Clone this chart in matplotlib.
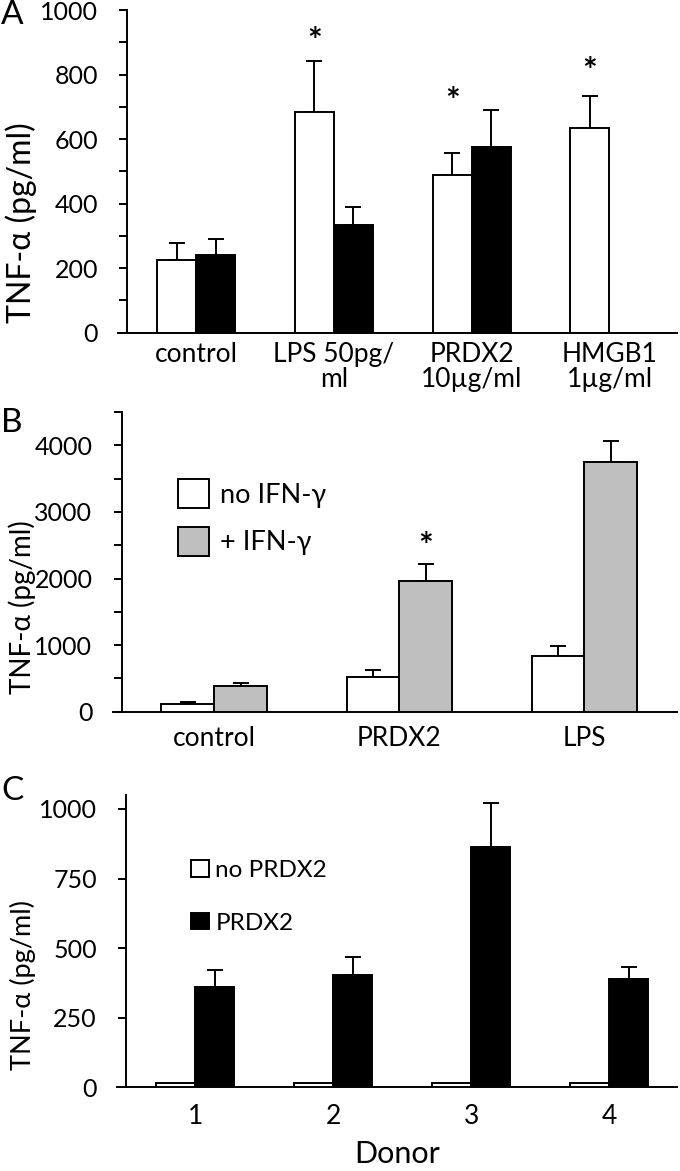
import numpy as np
import matplotlib.pyplot as plt
from matplotlib.patches import Patch
from matplotlib.ticker import MultipleLocator

plt.rcParams['font.family'] = ['Lato', 'Noto Sans', 'DejaVu Sans']

# === Daten ==============================================================
# Panel A
a_groups = ['control', 'LPS 50pg/\nml', 'PRDX2\n10µg/ml', 'HMGB1\n1µg/ml']
a_white = [226, 683, 489, 634]
a_white_err = [52, 160, 67, 99]
a_black = [240, 335, 575, np.nan]
a_black_err = [49, 53, 115, np.nan]
a_star_y = [np.nan, 902, 716, 809]     # Sternchen über den weißen Balken

# Panel B
b_groups = ['control', 'PRDX2', 'LPS']
b_no_ifn = [115, 527, 843]
b_no_ifn_err = [31, 100, 136]
b_ifn = [386, 1967, 3749]
b_ifn_err = [41, 256, 321]
b_star_y = [np.nan, 2474, np.nan]      # Sternchen über den grauen Balken

# Panel C
c_donors = ['1', '2', '3', '4']
c_no_prdx2 = [15, 15, 15, 15]
c_prdx2 = [360, 404, 864, 389]
c_prdx2_err = [60, 64, 157, 43]

# === Layout =============================================================
W, H = 680, 1171
fig = plt.figure(figsize=(W / 100, H / 100), dpi=100)

def px_axes(x0, y0, x1, y1):
    return fig.add_axes([x0 / W, 1 - y1 / H, (x1 - x0) / W, (y1 - y0) / H])

ax_a = px_axes(118, 10, 677, 332.7)
ax_b = px_axes(112.7, 412, 677, 711.7)
ax_c = px_axes(117, 795, 677, 1087.3)

LW = 1.4

def style(ax, xlim, ylim, major, minor, lab_pad):
    ax.set_xlim(*xlim)
    ax.set_ylim(*ylim)
    for sp in ['top', 'right']:
        ax.spines[sp].set_visible(False)
    ax.spines['left'].set_position(('data', -0.5))
    ax.spines['left'].set_linewidth(LW)
    ax.spines['bottom'].set_linewidth(LW)
    ax.yaxis.set_major_locator(MultipleLocator(major))
    if minor:
        ax.yaxis.set_minor_locator(MultipleLocator(minor))
    ax.tick_params(axis='y', which='both', direction='out', length=6, width=LW,
                   labelsize=18, pad=15)
    ax.tick_params(axis='x', length=0, labelsize=19, pad=lab_pad)

def errbar(ax, x, y, err):
    y = np.asarray(y, float)
    err = np.asarray(err, float)
    ax.errorbar(x, y, yerr=[np.zeros_like(err), err], fmt='none', ecolor='black',
                elinewidth=LW, capsize=5.5, capthick=LW)

# --- A ------------------------------------------------------------------
w = 0.283
xa = np.arange(len(a_groups))
ax_a.bar(xa - w / 2, a_white, w, color='white', edgecolor='black', linewidth=LW, zorder=3)
ax_a.bar(xa + w / 2, a_black, w, color='black', edgecolor='black', linewidth=LW, zorder=3)
errbar(ax_a, xa - w / 2, a_white, a_white_err)
errbar(ax_a, xa + w / 2, a_black, a_black_err)
for xi, ys in zip(xa - w / 2, a_star_y):
    if not np.isnan(ys):
        ax_a.text(xi, ys, '*', ha='center', va='center', fontsize=25, fontweight='bold')
style(ax_a, (-0.566, 3.49), (0, 1000), 200, 100, 7)
ax_a.set_xticks(xa)
ax_a.set_xticklabels(a_groups, linespacing=1.0)
ax_a.set_ylabel('TNF-α (pg/ml)', fontsize=23)
ax_a.yaxis.set_label_coords((37 - 118) / 559, 0.34)

# --- B ------------------------------------------------------------------
wb = 0.285
xb = np.arange(len(b_groups))
ax_b.bar(xb - wb / 2, b_no_ifn, wb, color='white', edgecolor='black', linewidth=LW,
         zorder=3, label='no IFN-γ')
ax_b.bar(xb + wb / 2, b_ifn, wb, color='#bfbfbf', edgecolor='black', linewidth=LW,
         zorder=3, label='+ IFN-γ')
errbar(ax_b, xb - wb / 2, b_no_ifn, b_no_ifn_err)
errbar(ax_b, xb + wb / 2, b_ifn, b_ifn_err)
for xi, ys in zip(xb + wb / 2, b_star_y):
    if not np.isnan(ys):
        ax_b.text(xi, ys, '*', ha='center', va='center', fontsize=25, fontweight='bold')
style(ax_b, (-0.548, 2.5), (0, 4500), 1000, 500, 10)
ax_b.set_xticks(xb)
ax_b.set_xticklabels(b_groups)
ax_b.set_ylabel('TNF-α (pg/ml)', fontsize=20)
ax_b.yaxis.set_label_coords((36 - 112.7) / 564, 0.35)
hb = [Patch(facecolor='white', edgecolor='black', linewidth=LW),
      Patch(facecolor='#bfbfbf', edgecolor='black', linewidth=LW)]
ax_b.legend(hb, ['no IFN-γ', '+ IFN-γ'], loc='upper left',
            bbox_to_anchor=((178 - 112.7) / 564, (711.7 - 479) / 299.7),
            frameon=False, fontsize=19.5, handlelength=1.15, handleheight=1.28,
            labelspacing=0.68, handletextpad=0.4, borderpad=0, borderaxespad=0)

# --- C ------------------------------------------------------------------
xc = np.arange(len(c_donors))
ax_c.bar(xc - w / 2, c_no_prdx2, w, color='white', edgecolor='black', linewidth=LW, zorder=3)
ax_c.bar(xc + w / 2, c_prdx2, w, color='black', edgecolor='black', linewidth=LW, zorder=3)
errbar(ax_c, xc + w / 2, c_prdx2, c_prdx2_err)
style(ax_c, (-0.566, 3.49), (0, 1050), 250, None, 12)
ax_c.set_xticks(xc)
ax_c.set_xticklabels(c_donors)
ax_c.set_xlabel('Donor', fontsize=22, labelpad=8)
ax_c.set_ylabel('TNF-α (pg/ml)', fontsize=19.5)
ax_c.yaxis.set_label_coords((36 - 117) / 560, 0.35)
hc = [Patch(facecolor='white', edgecolor='black', linewidth=LW),
      Patch(facecolor='black', edgecolor='black', linewidth=LW)]
ax_c.legend(hc, ['no PRDX2', 'PRDX2'], loc='upper left',
            bbox_to_anchor=((191 - 117) / 560, (1087.3 - 860) / 292.3),
            frameon=False, fontsize=17.5, handlelength=0.75, handleheight=0.68,
            labelspacing=1.3, handletextpad=0.25, borderpad=0, borderaxespad=0)

# Panelbuchstaben
for letter, ytop in [('A', 0), ('B', 408), ('C', 776)]:
    fig.text(1 / W, 1 - ytop / H, letter, ha='left', va='top', fontsize=24)

fig.savefig('out.png', dpi=100)
